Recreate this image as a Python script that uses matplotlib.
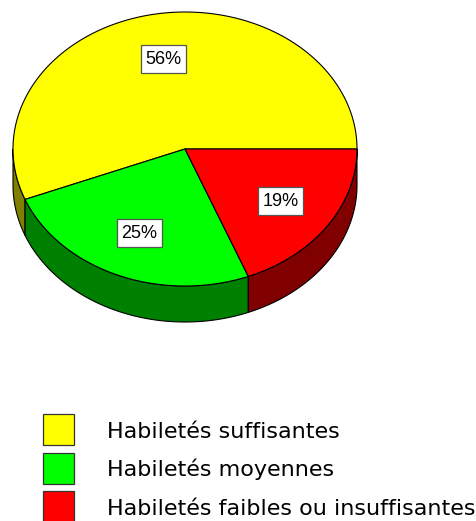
import numpy as np
import matplotlib
matplotlib.use('Agg')
import matplotlib.pyplot as plt
from matplotlib.patches import Polygon, Rectangle

# ---- data ----
categories = ['Habiletés suffisantes', 'Habiletés moyennes',
              'Habiletés faibles ou insuffisantes']
values = [56, 25, 19]
pct_labels = ['56%', '25%', '19%']
top_colors = ['#FFFF00', '#00FF00', '#FF0000']
side_colors = ['#808000', '#008000', '#800000']

W, H = 476, 521
fig = plt.figure(figsize=(W / 100, H / 100), dpi=100)
ax = fig.add_axes([0, 0, 1, 1])
ax.set_xlim(0, W)
ax.set_ylim(H, 0)
ax.axis('off')

cx, cy, rx, ry, depth = 185, 149, 172, 137, 36


def pt(t_deg, r=1.0):
    t = np.radians(t_deg)
    return cx + r * rx * np.cos(t), cy - r * ry * np.sin(t)


fracs = np.array(values, dtype=float) / sum(values)
bounds = np.concatenate([[0], np.cumsum(fracs) * 360])

# sides (front half only)
for i in range(len(values)):
    a, b = max(bounds[i], 180), min(bounds[i + 1], 360)
    if b <= a:
        continue
    t = np.linspace(a, b, 200)
    x, y = pt(t)
    poly = np.column_stack([np.concatenate([x, x[::-1]]),
                            np.concatenate([y, (y + depth)[::-1]])])
    ax.add_patch(Polygon(poly, closed=True, fc=side_colors[i], ec='black',
                         lw=0.8, joinstyle='miter'))

# top wedges
for i in range(len(values)):
    t = np.linspace(bounds[i], bounds[i + 1], 300)
    x, y = pt(t)
    poly = np.column_stack([np.concatenate([[cx], x]), np.concatenate([[cy], y])])
    ax.add_patch(Polygon(poly, closed=True, fc=top_colors[i], ec='black',
                         lw=0.8, joinstyle='miter'))

# percentage labels with boxes
box_w, box_h = 45, 28
for i in range(len(values)):
    mid = (bounds[i] + bounds[i + 1]) / 2
    x, y = pt(mid, 0.67)
    ax.add_patch(Rectangle((x - box_w / 2, y - box_h / 2), box_w, box_h,
                           fc='white', ec='#555555', lw=0.9, zorder=3))
    ax.text(x, y + 0.5, pct_labels[i], ha='center', va='center',
            fontsize=13, family='Liberation Sans', color='black', zorder=4)

# legend
for i, cat in enumerate(categories):
    y0 = 414 + i * 38.5
    ax.add_patch(Rectangle((43, y0), 31, 31, fc=top_colors[i], ec='#333333', lw=0.9))
    ax.text(107, y0 + 24, cat, ha='left', va='baseline', fontsize=16,
            family='DejaVu Sans', color='black')

fig.savefig('out.png', dpi=100)
